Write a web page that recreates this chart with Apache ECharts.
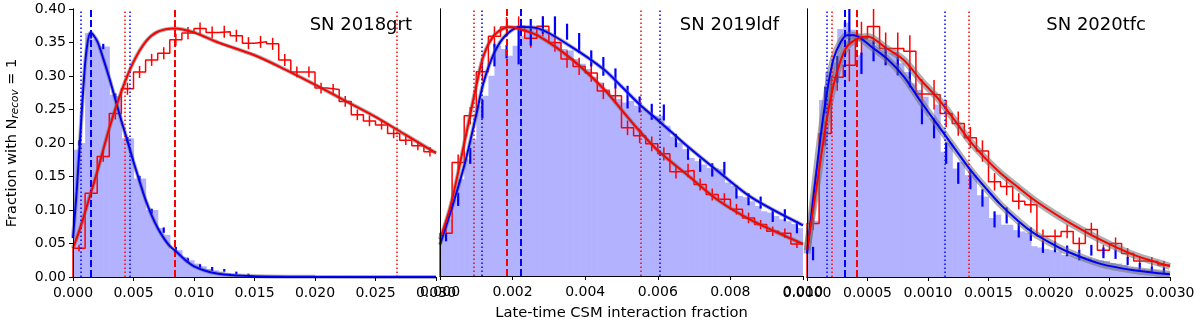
<!DOCTYPE html>
<html>
<head>
<meta charset="utf-8">
<script src="https://cdn.jsdelivr.net/npm/echarts/dist/echarts.min.js"></script>
<style>
  html, body { margin: 0; padding: 0; background: #fff; }
  #main { width: 1200px; height: 326px; }
</style>
</head>
<body>
<div id="main"></div>
<script>
// panel labels and x ranges
var names = ['SN 2018grt', 'SN 2019ldf', 'SN 2020tfc'];
var xMax = [0.030, 0.010, 0.003];
var xStep = [0.005, 0.002, 0.0005];
var xDigits = [3, 3, 4];

// light blue filled histograms (60 bins over each panel range)
var fill1 = [0.19, 0.20, 0.364, 0.355, 0.344, 0.344, 0.272, 0.27, 0.207, 0.207, 0.147, 0.147, 0.10, 0.10, 0.073, 0.063, 0.04, 0.04, 0.03, 0.025,
  0.02, 0.016, 0.012, 0.01, 0.008, 0.006, 0.004, 0.003, 0.002, 0.002];
var fill2 = [0.062, 0.085, 0.115, 0.145, 0.175, 0.205, 0.255, 0.27, 0.30, 0.345, 0.34, 0.33, 0.345, 0.36, 0.37, 0.37, 0.368, 0.37, 0.36, 0.35,
  0.34, 0.338, 0.325, 0.318, 0.31, 0.298, 0.29, 0.28, 0.27, 0.265, 0.26, 0.262, 0.255, 0.25, 0.245, 0.24, 0.24, 0.225, 0.209, 0.20,
  0.19, 0.177, 0.172, 0.167, 0.162, 0.162, 0.16, 0.14, 0.135, 0.12, 0.118, 0.112, 0.105, 0.097, 0.095, 0.09, 0.085, 0.082, 0.078, 0.072];
var fill3 = [0.084, 0.084, 0.264, 0.306, 0.32, 0.37, 0.38, 0.369, 0.331, 0.359, 0.354, 0.346, 0.339, 0.334, 0.336, 0.319, 0.306, 0.289, 0.279, 0.269,
  0.237, 0.257, 0.187, 0.20, 0.162, 0.172, 0.152, 0.152, 0.122, 0.12, 0.088, 0.093, 0.078, 0.078, 0.07, 0.068, 0.066, 0.046, 0.044, 0.042,
  0.04, 0.038, 0.033, 0.032, 0.03, 0.03, 0.029, 0.026, 0.025, 0.024, 0.021, 0.02, 0.018, 0.014, 0.013, 0.012, 0.011, 0.01, 0.009, 0.008];

// red step histograms (30 bins) and their errors
var red1 = [0.043, 0.125, 0.18, 0.244, 0.281, 0.306, 0.324, 0.334, 0.354, 0.364, 0.371, 0.365, 0.366, 0.36, 0.349,
  0.351, 0.348, 0.324, 0.306, 0.306, 0.282, 0.28, 0.262, 0.242, 0.233, 0.227, 0.214, 0.204, 0.196, 0.187];
var redErr1 = [0.005, 0.007, 0.008, 0.009, 0.009, 0.009, 0.009, 0.009, 0.009, 0.009, 0.009, 0.009, 0.009, 0.009, 0.009,
  0.009, 0.009, 0.009, 0.008, 0.008, 0.008, 0.008, 0.008, 0.008, 0.008, 0.007, 0.007, 0.007, 0.007, 0.007];
var red2 = [0.064, 0.17, 0.24, 0.306, 0.359, 0.373, 0.374, 0.356, 0.374, 0.35, 0.325, 0.314, 0.304, 0.277, 0.27,
  0.222, 0.21, 0.198, 0.183, 0.156, 0.158, 0.137, 0.122, 0.115, 0.10, 0.087, 0.077, 0.067, 0.064, 0.048];
var redErr2 = [0.008, 0.012, 0.013, 0.014, 0.015, 0.015, 0.015, 0.014, 0.015, 0.014, 0.013, 0.013, 0.013, 0.012, 0.012,
  0.011, 0.011, 0.011, 0.01, 0.01, 0.01, 0.009, 0.009, 0.009, 0.008, 0.008, 0.007, 0.007, 0.007, 0.006];
var red3 = [0.08, 0.214, 0.298, 0.316, 0.356, 0.374, 0.341, 0.341, 0.337, 0.273, 0.272, 0.244, 0.229, 0.208, 0.188,
  0.142, 0.135, 0.113, 0.108, 0.061, 0.061, 0.068, 0.05, 0.071, 0.04, 0.05, 0.035, 0.024, 0.023, 0.018];
var redErr3 = [0.01, 0.018, 0.02, 0.024, 0.025, 0.026, 0.024, 0.024, 0.024, 0.022, 0.022, 0.02, 0.018, 0.016, 0.016,
  0.013, 0.013, 0.012, 0.012, 0.01, 0.01, 0.01, 0.009, 0.01, 0.008, 0.009, 0.008, 0.007, 0.007, 0.006];

// blue binned points (30 bins) and their errors
var blue1 = [0.20, 0.36, 0.344, 0.27, 0.205, 0.147, 0.098, 0.07, 0.042, 0.025, 0.016, 0.012, 0.01, 0.006, 0.003];
var blueErr1 = [0.004, 0.004, 0.004, 0.004, 0.004, 0.004, 0.004, 0.004, 0.003, 0.003, 0.003, 0.003, 0.002, 0.002, 0.002];
var blue2 = [0.058, 0.115, 0.18, 0.25, 0.331, 0.336, 0.345, 0.365, 0.376, 0.374, 0.366, 0.349, 0.326, 0.314, 0.296,
  0.268, 0.257, 0.246, 0.245, 0.203, 0.184, 0.166, 0.159, 0.161, 0.126, 0.115, 0.11, 0.09, 0.091, 0.073];
var blueErr2 = [0.006, 0.01, 0.012, 0.014, 0.017, 0.01, 0.028, 0.02, 0.013, 0.015, 0.012, 0.015, 0.012, 0.014, 0.015,
  0.017, 0.012, 0.012, 0.012, 0.01, 0.01, 0.01, 0.01, 0.01, 0.01, 0.009, 0.009, 0.009, 0.009, 0.009];
var blue3 = [0.035, 0.264, 0.31, 0.376, 0.319, 0.337, 0.33, 0.315, 0.298, 0.244, 0.222, 0.185, 0.155, 0.146, 0.118,
  0.086, 0.092, 0.07, 0.064, 0.045, 0.045, 0.039, 0.033, 0.04, 0.036, 0.034, 0.024, 0.016, 0.012, 0.01];
var blueErr3 = [0.01, 0.02, 0.02, 0.028, 0.016, 0.015, 0.014, 0.014, 0.015, 0.016, 0.015, 0.016, 0.016, 0.015, 0.013,
  0.012, 0.012, 0.011, 0.01, 0.009, 0.008, 0.008, 0.008, 0.008, 0.008, 0.007, 0.006, 0.005, 0.004, 0.004];

// fitted curves, [x, y]
var blueFit1 = [[0, 0.058], [0.0003, 0.127], [0.0006, 0.21], [0.00085, 0.281], [0.0011, 0.336], [0.00146, 0.365], [0.002, 0.352],
  [0.0025, 0.326], [0.003, 0.297], [0.0035, 0.265], [0.004, 0.233], [0.0045, 0.203], [0.005, 0.172], [0.0055, 0.143], [0.006, 0.115],
  [0.0065, 0.092], [0.007, 0.073], [0.0075, 0.058], [0.008, 0.046], [0.0084, 0.04], [0.009, 0.03], [0.0095, 0.022], [0.01, 0.016],
  [0.011, 0.009], [0.012, 0.005], [0.013, 0.003], [0.015, 0.0012], [0.02, 0.0003], [0.03, 0]];
var redFit1 = [[0, 0.043], [0.0005, 0.068], [0.001, 0.097], [0.0015, 0.127], [0.002, 0.157], [0.003, 0.222], [0.004, 0.277],
  [0.005, 0.321], [0.006, 0.351], [0.007, 0.366], [0.0084, 0.371], [0.01, 0.365], [0.012, 0.35], [0.015, 0.331], [0.0175, 0.31],
  [0.02, 0.287], [0.0225, 0.263], [0.025, 0.239], [0.0275, 0.212], [0.03, 0.185]];
var blueFit2 = [[0, 0.047], [0.0003, 0.097], [0.0007, 0.172], [0.001, 0.242], [0.0012, 0.29], [0.0015, 0.335], [0.0018, 0.36],
  [0.0022, 0.373], [0.0027, 0.371], [0.0036, 0.344], [0.0045, 0.31], [0.005, 0.284], [0.0055, 0.257], [0.0061, 0.229],
  [0.0068, 0.195], [0.0077, 0.155], [0.0086, 0.117], [0.01, 0.076]];
var redFit2 = [[0, 0.055], [0.0003, 0.107], [0.0007, 0.207], [0.001, 0.285], [0.0012, 0.33], [0.0015, 0.361], [0.0019, 0.373],
  [0.0022, 0.37], [0.0027, 0.36], [0.0036, 0.326], [0.0045, 0.281], [0.005, 0.249], [0.0055, 0.217], [0.006, 0.188],
  [0.0068, 0.152], [0.0077, 0.112], [0.0086, 0.083], [0.01, 0.048]];
var blueFit3 = [[0, 0.035], [0.00011, 0.207], [0.00017, 0.281], [0.00022, 0.326], [0.00028, 0.351], [0.00033, 0.361],
  [0.00039, 0.361], [0.00044, 0.357], [0.00053, 0.344], [0.00066, 0.326], [0.0008, 0.299], [0.00094, 0.262], [0.00108, 0.227],
  [0.00122, 0.192], [0.00135, 0.16], [0.00149, 0.13], [0.0016, 0.108], [0.00175, 0.083], [0.00187, 0.066], [0.002, 0.052],
  [0.00215, 0.038], [0.00242, 0.02], [0.0027, 0.01], [0.003, 0.004]];
var redFit3 = [[0, 0.04], [0.00011, 0.172], [0.00017, 0.242], [0.00022, 0.287], [0.00028, 0.324], [0.00033, 0.344],
  [0.00042, 0.356], [0.0005, 0.359], [0.00066, 0.341], [0.0008, 0.324], [0.00094, 0.294], [0.00108, 0.267], [0.00122, 0.234],
  [0.00135, 0.202], [0.00149, 0.174], [0.0016, 0.155], [0.00175, 0.133], [0.00187, 0.116], [0.002, 0.1], [0.00215, 0.083],
  [0.00242, 0.056], [0.0027, 0.033], [0.003, 0.016]];

// vertical markers: [lower (dotted), peak (dashed), upper (dotted)]
var blueLines1 = [0.00063, 0.00146, 0.00465];
var redLines1 = [0.0043, 0.00837, 0.02675];
var blueLines2 = [0.00114, 0.00222, 0.00604];
var redLines2 = [0.00094, 0.00185, 0.00554];
var blueLines3 = [0.000163, 0.000314, 0.001138];
var redLines3 = [0.000204, 0.000408, 0.001339];

var panels = [
  { fill: fill1, red: red1, redErr: redErr1, blue: blue1, blueErr: blueErr1, blueFit: blueFit1, redFit: redFit1, blueLines: blueLines1, redLines: redLines1 },
  { fill: fill2, red: red2, redErr: redErr2, blue: blue2, blueErr: blueErr2, blueFit: blueFit2, redFit: redFit2, blueLines: blueLines2, redLines: redLines2 },
  { fill: fill3, red: red3, redErr: redErr3, blue: blue3, blueErr: blueErr3, blueFit: blueFit3, redFit: redFit3, blueLines: blueLines3, redLines: redLines3 }
];

var BLUE = '#0000ff', RED = '#ff0000', FILL = '#b2b2ff', BAND = 'rgba(110,110,110,0.55)';
var gridLeft = [73, 440, 807], gridW = 363, gridTop = 9, gridH = 268;
var bandW = [4, 4, 7];
var SMOOTH = 0.3;

function histRect(params, api) {
  var a = api.coord([api.value(0), api.value(2)]);
  var b = api.coord([api.value(1), 0]);
  return {
    type: 'rect',
    shape: { x: a[0], y: a[1], width: b[0] - a[0] + 0.6, height: b[1] - a[1] },
    style: { fill: FILL }
  };
}

function errItem(color, w) {
  return function(params, api) {
    var x = api.value(0), v = api.value(1), e = api.value(2);
    var a = api.coord([x, v - e]), b = api.coord([x, v + e]);
    return {
      type: 'line',
      shape: { x1: a[0], y1: a[1], x2: b[0], y2: b[1] },
      style: { stroke: color, lineWidth: w }
    };
  };
}

function vlines(vals, color) {
  return [
    { xAxis: vals[0], lineStyle: { color: color, type: [1.5, 2.5], width: 1.5 } },
    { xAxis: vals[1], lineStyle: { color: color, type: [7, 3], width: 2 } },
    { xAxis: vals[2], lineStyle: { color: color, type: [1.5, 2.5], width: 1.5 } }
  ];
}

var grid = [], xAxis = [], yAxis = [], series = [], title = [];
var axisColor = '#000';

panels.forEach(function(p, i) {
  grid.push({ left: gridLeft[i], top: gridTop, width: gridW, height: gridH });
  title.push({
    text: names[i],
    right: 1200 - (gridLeft[i] + gridW) + 19,
    top: 11,
    textStyle: { fontSize: 18, fontWeight: 'normal', color: '#000', fontFamily: 'DejaVu Sans' }
  });

  xAxis.push({
    gridIndex: i, type: 'value', min: 0, max: xMax[i], interval: xStep[i], z: 10,
    axisLine: { lineStyle: { color: axisColor, width: 1 } },
    axisTick: { length: 4, lineStyle: { color: axisColor } },
    axisLabel: { color: '#000', fontSize: 14, margin: 9, formatter: function(v) { return v.toFixed(xDigits[i]); } },
    splitLine: { show: false },
    name: i === 1 ? 'Late-time CSM interaction fraction' : '',
    nameLocation: 'middle', nameGap: 30,
    nameTextStyle: { color: '#000', fontSize: 14.7 }
  });
  yAxis.push({
    gridIndex: i, type: 'value', min: 0, max: 0.4, interval: 0.05, z: 10,
    axisLine: { show: true, lineStyle: { color: axisColor, width: 1 } },
    axisTick: { show: i === 0, length: 4, lineStyle: { color: axisColor } },
    axisLabel: { show: i === 0, color: '#000', fontSize: 14, margin: 7, formatter: function(v) { return v.toFixed(2); } },
    splitLine: { show: false },
    name: i === 0 ? 'Fraction with N{s|recov} = 1' : '',
    nameLocation: 'middle', nameGap: 52,
    nameTextStyle: {
      color: '#000', fontSize: 14.5,
      rich: { s: { fontSize: 10.5, fontStyle: 'italic', color: '#000', padding: [6, 0, 0, 0] } }
    }
  });

  var wf = xMax[i] / 60, ws = xMax[i] / 30;

  series.push({
    type: 'custom', xAxisIndex: i, yAxisIndex: i, z: 1, clip: true,
    renderItem: histRect, encode: { x: [0, 1], y: 2 },
    data: p.fill.map(function(v, k) { return [k * wf, (k + 1) * wf, v]; })
  });

  var steps = [[0, 0]];
  p.red.forEach(function(v, k) { steps.push([k * ws, v], [(k + 1) * ws, v]); });
  series.push({
    type: 'line', xAxisIndex: i, yAxisIndex: i, z: 2, showSymbol: false,
    lineStyle: { color: RED, width: 1.5 }, data: steps
  });

  series.push({
    type: 'custom', xAxisIndex: i, yAxisIndex: i, z: 3, clip: true,
    renderItem: errItem(RED, 1.5), encode: { x: 0, y: 1 },
    data: p.red.map(function(v, k) { return [(k + 0.5) * ws, v, p.redErr[k]]; })
  });
  series.push({
    type: 'custom', xAxisIndex: i, yAxisIndex: i, z: 3, clip: true,
    renderItem: errItem(BLUE, 2.2), encode: { x: 0, y: 1 },
    data: p.blue.map(function(v, k) { return [(k + 0.5) * ws, v, p.blueErr[k]]; })
  });

  [p.redFit, p.blueFit].forEach(function(fit) {
    series.push({
      type: 'line', xAxisIndex: i, yAxisIndex: i, z: 4, showSymbol: false, smooth: SMOOTH, clip: true,
      lineStyle: { color: BAND, width: bandW[i] }, data: fit
    });
  });
  series.push({
    type: 'line', xAxisIndex: i, yAxisIndex: i, z: 5, showSymbol: false, smooth: SMOOTH, clip: true,
    lineStyle: { color: BLUE, width: 2 }, data: p.blueFit,
    markLine: { symbol: 'none', silent: true, precision: 8, label: { show: false }, data: vlines(p.blueLines, BLUE) }
  });
  series.push({
    type: 'line', xAxisIndex: i, yAxisIndex: i, z: 5, showSymbol: false, smooth: SMOOTH, clip: true,
    lineStyle: { color: RED, width: 2 }, data: p.redFit,
    markLine: { symbol: 'none', silent: true, precision: 8, label: { show: false }, data: vlines(p.redLines, RED) }
  });
});

// top and right frame lines
panels.forEach(function(p, i) {
  xAxis.push({
    gridIndex: i, type: 'value', position: 'top', min: 0, max: xMax[i], z: 10,
    axisLine: { show: true, lineStyle: { color: axisColor, width: 1 } },
    axisTick: { show: false }, axisLabel: { show: false }, splitLine: { show: false }
  });
  yAxis.push({
    gridIndex: i, type: 'value', position: 'right', min: 0, max: 0.4, z: 10,
    axisLine: { show: true, lineStyle: { color: axisColor, width: 1 } },
    axisTick: { show: false }, axisLabel: { show: false }, splitLine: { show: false }
  });
});

var chart = echarts.init(document.getElementById('main'));
chart.setOption({
  animation: false,
  backgroundColor: '#fff',
  textStyle: { fontFamily: 'DejaVu Sans' },
  title: title,
  grid: grid,
  xAxis: xAxis,
  yAxis: yAxis,
  series: series
});
</script>
</body>
</html>
